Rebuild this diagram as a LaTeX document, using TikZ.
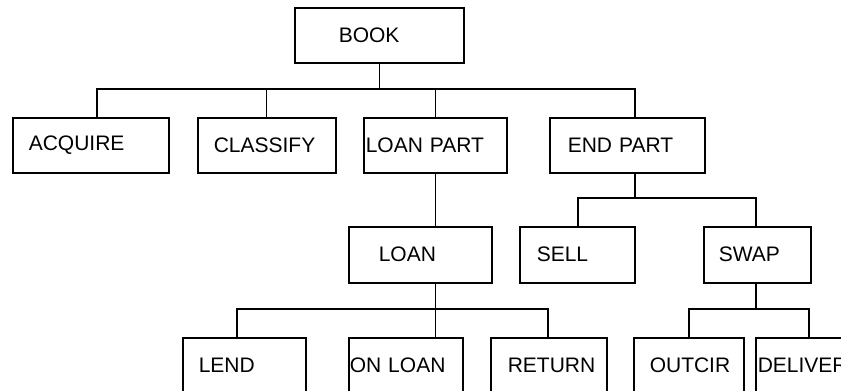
\documentclass[tikz,border=0pt]{standalone}
\usepackage{fontspec}
\setmainfont{Liberation Sans}
\begin{document}
\begin{tikzpicture}[x=1pt,y=-1pt,
  box/.style={draw, line width=1.5pt, anchor=north west, inner ysep=0pt,
    align=left, font=\fontsize{21}{25}\selectfont},
  link/.style={draw, line width=1.1pt}]
\useasboundingbox (0,0) rectangle (841,391);
\clip (0,0) rectangle (841,391);

% top level
\node[box, inner xsep=44pt, text width=81pt,  minimum height=55pt] (book) at (294,7) {BOOK};

% first level
\node[box, inner xsep=16pt, text width=124pt, minimum height=55pt] (acq)  at (12,117)  {ACQUIRE};
\node[box, inner xsep=16pt, text width=106pt, minimum height=55pt] (cls)  at (197,117) {CLASSIFY};
\node[box, inner xsep=2pt,  text width=139pt, minimum height=55pt] (lp)   at (363,117) {LOAN PART};
\node[box, inner xsep=18pt, text width=119pt, minimum height=55pt] (ep)   at (549,117) {END PART};

% second level
\node[box, inner xsep=30pt, text width=83pt,  minimum height=56pt] (loan) at (348,226) {LOAN};
\node[box, inner xsep=17pt, text width=81pt,  minimum height=56pt] (sell) at (519,226) {SELL};
\node[box, inner xsep=15pt, text width=77pt,  minimum height=56pt] (swap) at (703,226) {SWAP};

% third level
\node[box, inner xsep=16pt, text width=91pt,  minimum height=56pt] (lend) at (182,337) {LEND};
\node[box, inner xsep=1pt,  text width=112pt, minimum height=56pt] (onl)  at (348,337) {ON LOAN};
\node[box, inner xsep=17pt, text width=82pt,  minimum height=56pt] (ret)  at (490,337) {RETURN};
\node[box, inner xsep=16pt, text width=78pt,  minimum height=56pt] (out)  at (633,337) {OUTCIR};
\node[box, inner xsep=2pt,  text width=111pt, minimum height=56pt] (del)  at (755,337) {DELIVER};

% branch bars
\coordinate (b1l) at (97,89);   \coordinate (b1r) at (635,89);
\coordinate (b2l) at (578,198); \coordinate (b2r) at (756,198);
\coordinate (b3l) at (237,309); \coordinate (b3r) at (548,309);
\coordinate (b4l) at (689,309); \coordinate (b4r) at (809,309);

% BOOK
\draw[link] (book.south) -- (book.south |- b1l);
\draw[link] (acq.north -| b1l) |- (b1r) -- (b1r |- ep.north);
\draw[link] (cls.north) -- (cls.north |- b1l);
\draw[link] (lp.north) -- (lp.north |- b1l);

% LOAN PART and LOAN
\draw[link] (lp.south) -- (lp.south |- loan.north);
\draw[link] (loan.south -| lp.south) -- (onl.north -| lp.south);
\draw[link] (lend.north -| b3l) |- (b3r) -- (b3r |- ret.north);

% END PART
\draw[link] (ep.south -| b1r) -- (b1r |- b2l);
\draw[link] (sell.north -| b2l) |- (b2r) -- (b2r |- swap.north);

% SWAP
\draw[link] (swap.south -| b2r) -- (b2r |- b4l);
\draw[link] (out.north -| b4l) |- (b4r) -- (b4r |- del.north);
\end{tikzpicture}
\end{document}
